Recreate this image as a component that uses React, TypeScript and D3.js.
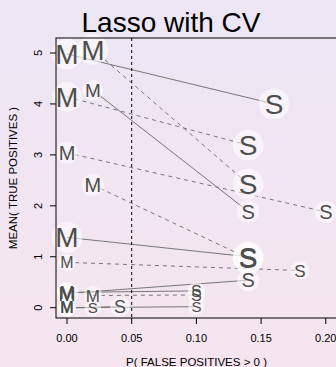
import React from "react";
import * as d3 from "d3";

const mX = [0, 0.02, 0, 0.02, 0, 0.02, 0, 0, 0, 0, 0.02, 0, 0, 0];
const mY = [4.98, 5.07, 4.14, 4.27, 3.04, 2.41, 1.38, 0.89, 0.28, 0.3, 0.24, 0.0, 0.0, 0.0];
const mSize = [28, 28, 27, 19, 20, 20, 28, 16, 21, 18, 17, 16, 16, 16];
const sX = [0.16, 0.14, 0.14, 0.14, 0.2, 0.14, 0.14, 0.18, 0.14, 0.1, 0.1, 0.1, 0.041, 0.02];
const sY = [4.0, 2.43, 3.19, 1.89, 1.88, 0.97, 1.0, 0.73, 0.54, 0.33, 0.25, 0.02, 0.02, 0.0];
const sSize = [28, 28, 28, 20, 20, 28, 28, 17, 20, 16, 16, 15, 18, 15];
const lineDashed = [false, true, true, false, true, true, false, true, false, false, true, false, false, false];

const xTicks = [0, 0.05, 0.1, 0.15, 0.2];
const yTicks = [0, 1, 2, 3, 4, 5];
const cutoff = 0.05;

const W = 336;
const H = 367;
const FONT = "'Liberation Sans', Arial, Helvetica, sans-serif";

export default function App() {
  const x = d3.scaleLinear().domain([0, 0.2]).range([67, 325.8]);
  const y = d3.scaleLinear().domain([0, 5]).range([307.7, 53]);
  const left = 56, top = 38, bottom = 318, right = 337;
  const textColor = "#4d4d4d";
  const lineColor = "#777";

  const letters: { x: number; y: number; s: number; t: string }[] = [];
  mX.forEach((v, i) => letters.push({ x: x(v), y: y(mY[i]), s: mSize[i], t: "M" }));
  sX.forEach((v, i) => letters.push({ x: x(v), y: y(sY[i]), s: sSize[i], t: "S" }));

  return (
    <svg width={W} height={H} style={{ position: "absolute", left: 0, top: 0 }} fontFamily={FONT}>
      <defs>
        <linearGradient id="bg" x1="0" y1="0" x2="0" y2="1">
          <stop offset="0" stopColor="#ECE6F5" />
          <stop offset="1" stopColor="#F6E5EE" />
        </linearGradient>
      </defs>
      <rect x={0} y={0} width={W} height={H} fill="url(#bg)" />
      <text x={171} y={32} textAnchor="middle" fontSize={28} fill="#000">Lasso with CV</text>
      {mX.map((v, i) => (
        <line key={"l" + i} x1={x(v)} y1={y(mY[i])} x2={x(sX[i])} y2={y(sY[i])}
          stroke={lineColor} strokeWidth={1} strokeDasharray={lineDashed[i] ? "4,4" : undefined} />
      ))}
      <line x1={x(cutoff)} x2={x(cutoff)} y1={top} y2={bottom} stroke="#000" strokeWidth={1} strokeDasharray="3,3" />
      {letters.map((d, i) => (
        <circle key={"c" + i} cx={d.x} cy={d.y} r={d.s * 0.55} fill="#fff" fillOpacity={0.55} />
      ))}
      {letters.map((d, i) => (
        <text key={"t" + i} x={d.x} y={d.y + d.s * 0.36} textAnchor="middle" fontSize={d.s} fill={textColor}>{d.t}</text>
      ))}
      <rect x={left} y={top} width={right - left} height={bottom - top} fill="none" stroke="#000" strokeWidth={1} />
      {xTicks.map((t) => (
        <g key={"xt" + t}>
          <line x1={x(t)} x2={x(t)} y1={bottom} y2={bottom + 6} stroke="#000" />
          <text x={x(t)} y={bottom + 24} textAnchor="middle" fontSize={11} fill="#000">{t.toFixed(2)}</text>
        </g>
      ))}
      {yTicks.map((t) => (
        <g key={"yt" + t}>
          <line x1={left - 6} x2={left} y1={y(t)} y2={y(t)} stroke="#000" />
          <text transform={`translate(${left - 14},${y(t)}) rotate(-90)`} textAnchor="middle" fontSize={11} fill="#000">{t}</text>
        </g>
      ))}
      <text x={196.5} y={366} textAnchor="middle" fontSize={11.5} fill="#000">P( FALSE POSITIVES &gt; 0 )</text>
      <text transform={`translate(17,178) rotate(-90)`} textAnchor="middle" fontSize={11.5} fill="#000">MEAN( TRUE POSITIVES )</text>
    </svg>
  );
}
